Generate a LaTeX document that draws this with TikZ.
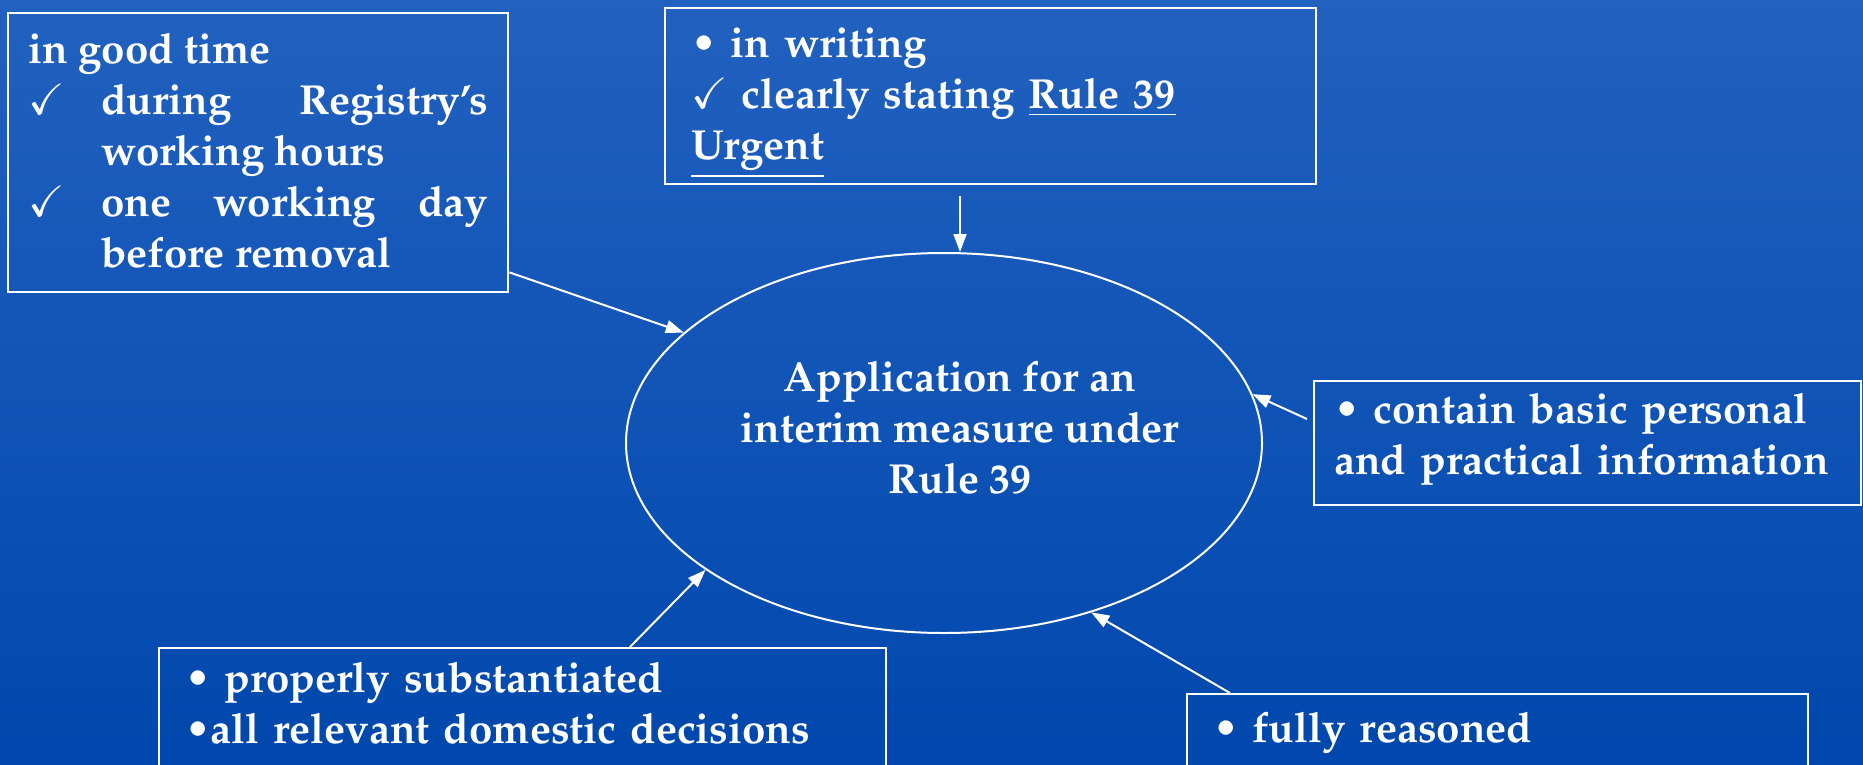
\documentclass[tikz,border=0pt]{standalone}
\usepackage[T1]{fontenc}
\usepackage{mathpazo}
\usepackage{amssymb}
\usepackage{tikz}
\usetikzlibrary{shapes,arrows.meta,calc}
\definecolor{slidetop}{rgb}{0.13,0.38,0.75}
\definecolor{slidebottom}{rgb}{0.00,0.28,0.68}
\newcommand{\ticked}[1]{\par\hangindent=36.5pt\hangafter=1\noindent\makebox[36.5pt][l]{$\checkmark$}#1\par}

\begin{document}
\begin{tikzpicture}
[x=0.5pt, y=-0.5pt,
 every node/.style={text=white, font=\fontsize{21}{25.5}\selectfont\bfseries},
 crit/.style={draw=white, line width=1.2pt, anchor=north west, inner ysep=0pt, inner xsep=13pt, align=left},
 feed/.style={draw=white, line width=1pt, -{Stealth[length=9pt,width=6.5pt,inset=0pt]}}]
\useasboundingbox (0,0) rectangle (1863,765);
\clip (0,0) rectangle (1863,765);
\shade[top color=slidetop, bottom color=slidebottom] (0,0) rectangle (1863,765);

% centre
\node[ellipse, draw=white, line width=1pt, minimum width=318pt, minimum height=190pt, inner sep=0pt] (app) at (944,443) {};
\node[align=center] (apptitle) at (960,428) {Application for an\\ interim measure under\\ Rule 39};

% requirements
\node[crit, align=justify, inner xsep=10pt, text width=230pt, text height=25pt, text depth=114.5pt] (goodtime) at (7,12)
  {\hyphenpenalty=10000\tolerance=10000\hbadness=10000
   in good time\par
   \ticked{during Registry's\linebreak working hours}
   \ticked{one working day\linebreak before removal}};
\node[crit, text width=299.5pt, text height=24.5pt, text depth=63.5pt] (writing) at (664,7)
  {\textbullet\ in writing\\
   $\checkmark$ clearly stating \underline{Rule 39}\\
   \underline{Urgent}};
\node[crit, inner xsep=10pt, text width=253.5pt, text height=21pt, text depth=41pt] (basic) at (1313,380)
  {\textbullet\ contain basic personal\\ and practical information};
\node[crit, text width=337.5pt, text height=22pt, text depth=80pt] (subst) at (158,647)
  {\textbullet\ properly substantiated\\ \textbullet all relevant domestic decisions};
\node[crit, text width=284.5pt, text height=24pt, text depth=60pt] (reasoned) at (1186,693)
  {\textbullet\ fully reasoned};

% arrows
\draw[feed] (goodtime.south east) ++(0,-21) -- (app.157);
\draw[feed] (apptitle |- writing.south) ++(0,11) -- (apptitle |- app.north);
\draw[feed] (basic.north west) ++(-6,39) -- (app.9);
\draw[feed] (subst.north west) ++(472,0) -- (app.208);
\draw[feed] (reasoned.north west) ++(44,0) -- (app.311);
\end{tikzpicture}
\end{document}
